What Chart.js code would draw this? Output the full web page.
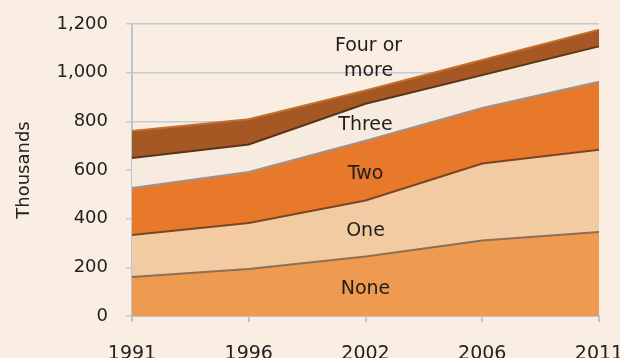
<!DOCTYPE html>
<html><head><meta charset="utf-8">
<script src="https://cdn.jsdelivr.net/npm/chart.js@4/dist/chart.umd.min.js"></script>
<style>
html,body{margin:0;padding:0;background:#FAEDE2;overflow:hidden;width:620px;height:358px}
canvas{display:block}
</style></head>
<body>
<canvas id="c" width="620" height="372" style="width:620px;height:372px"></canvas>
<script>
const years = ['1991', '1996', '2002', '2006', '2011'];
const none = [160, 193, 245, 310, 345];
const one = [173, 189, 230, 317, 338];
const two = [193, 210, 245, 228, 280];
const three = [123, 113, 152, 135, 145];
const fourPlus = [111, 104, 55, 62, 69];
const seriesNames = ['None', 'One', 'Two', 'Three', 'Four or more'];
const yTicks = [0, 200, 400, 600, 800, 1000, 1200];

const FONT = '"DejaVu Sans", "Liberation Sans", Arial, sans-serif';
const series = [none, one, two, three, fourPlus];
const fills = ['#EE9A50', '#F3CBA2', '#E8792B', '#F7EBDF', '#A65824'];
const borders = ['#8E6E55', '#7A4620', '#9C938E', '#5A3418', '#C27030'];

const bandLabels = {
  id: 'bandLabels',
  afterDatasetsDraw(chart) {
    const {ctx, scales: {x, y}} = chart;
    const idx = 2;
    const px = x.getPixelForValue(idx);
    ctx.save();
    ctx.font = '19px ' + FONT;
    ctx.fillStyle = '#1E1E1E';
    ctx.textAlign = 'center';
    ctx.textBaseline = 'middle';
    let cum = 0;
    for (let i = 0; i < 4; i++) {
      const v = series[i][idx];
      ctx.fillText(seriesNames[i], px, y.getPixelForValue(cum + v / 2) + 3);
      cum += v;
    }
    const top = y.getPixelForValue(cum + fourPlus[idx]);
    ctx.fillText('Four or', px + 3, top - 44);
    ctx.fillText('more', px + 3, top - 19);
    ctx.restore();
  }
};

new Chart(document.getElementById('c'), {
  type: 'line',
  data: {
    labels: years,
    datasets: series.map((d, i) => ({
      label: seriesNames[i],
      data: d,
      fill: i === 0 ? 'origin' : '-1',
      backgroundColor: fills[i],
      borderColor: borders[i],
      borderWidth: 2,
      pointRadius: 0,
      tension: 0
    }))
  },
  options: {
    responsive: false,
    animation: false,
    layout: {padding: {top: 24, right: 21, left: 0, bottom: 0}},
    plugins: {legend: {display: false}, tooltip: {enabled: false}},
    scales: {
      x: {
        offset: false,
        grid: {drawOnChartArea: false, color: '#BCC5D0', lineWidth: 2, tickLength: 6},
        border: {color: '#BCC5D0', width: 2},
        ticks: {font: {size: 19, family: FONT}, color: '#222', padding: 21, maxRotation: 0, autoSkip: false},
        afterFit(s) { s.height = 56; s.paddingLeft = 0; s.paddingRight = 0; }
      },
      y: {
        stacked: true,
        min: 0,
        max: 1200,
        afterBuildTicks(s) { s.ticks = yTicks.map(v => ({value: v})); },
        ticks: {font: {size: 18, family: FONT}, color: '#222', padding: 18,
          callback: v => v.toLocaleString('en-US')},
        grid: {color: '#C3CBD5', lineWidth: 1.5, tickLength: 6},
        border: {color: '#BCC5D0', width: 2},
        title: {display: true, text: 'Thousands', color: '#222', font: {size: 18, family: FONT}, padding: {top: 14, bottom: 0}},
        afterFit(s) { s.width = 132; s.paddingTop = 0; s.paddingBottom = 0; }
      }
    }
  },
  plugins: [bandLabels]
});
</script>
</body></html>
